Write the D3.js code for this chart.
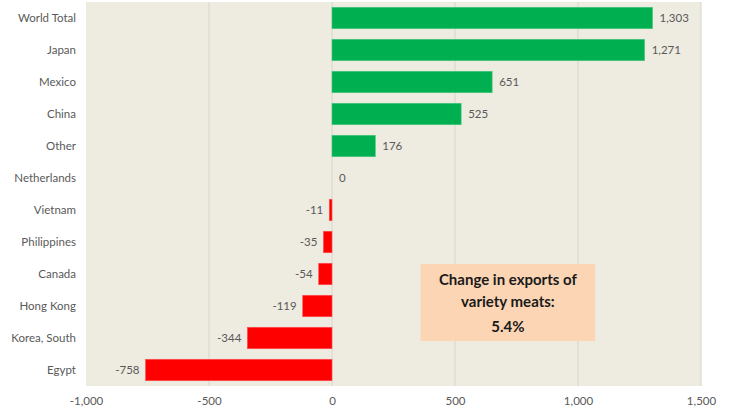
<!DOCTYPE html>
<html>
<head>
<meta charset="utf-8">
<script src="https://cdn.jsdelivr.net/npm/d3@7"></script>
<style>
  body { margin: 0; background: #fff; }
  svg { display: block; font-family: Lato, "Open Sans", sans-serif; }
</style>
</head>
<body>
<div id="chart"></div>
<script>
// 数据
const categories = ["World Total", "Japan", "Mexico", "China", "Other", "Netherlands",
  "Vietnam", "Philippines", "Canada", "Hong Kong", "Korea, South", "Egypt"];
const values = [1303, 1271, 651, 525, 176, 0, -11, -35, -54, -119, -344, -758];
const xTicks = [-1000, -500, 0, 500, 1000, 1500];
const noteLines = ["Change in exports of", "variety meats:", "5.4%"];

const width = 731, height = 413;
const margin = { top: 2, right: 30, bottom: 27, left: 86 };
const innerW = width - margin.left - margin.right;
const innerH = height - margin.top - margin.bottom;

const svg = d3.select("#chart").append("svg")
  .attr("width", width)
  .attr("height", height);

const g = svg.append("g").attr("transform", `translate(${margin.left},${margin.top})`);

const x = d3.scaleLinear().domain([-1000, 1500]).range([0, innerW]);
const y = d3.scaleBand().domain(categories).range([0, innerH]).paddingInner(0.33).paddingOuter(0.165);

// 用普通连字符作负号
const fmt = d => d3.format(",")(d).replace("\u2212", "-");

// 绘图区背景
g.append("rect")
  .attr("width", innerW)
  .attr("height", innerH)
  .attr("fill", "#eeebe1");

// 网格线
g.append("g")
  .selectAll("line")
  .data(xTicks.filter(t => t !== -1000))
  .join("line")
  .attr("x1", d => x(d)).attr("x2", d => x(d))
  .attr("y1", 0).attr("y2", innerH)
  .attr("stroke", "#dcd9d0")
  .attr("stroke-width", 1.2);

// 条形
g.append("g")
  .selectAll("rect")
  .data(values)
  .join("rect")
  .attr("x", d => x(Math.min(0, d)))
  .attr("y", (d, i) => y(categories[i]))
  .attr("width", d => Math.abs(x(d) - x(0)))
  .attr("height", y.bandwidth())
  .attr("fill", d => d >= 0 ? "#00b050" : "#ff0000")
  .attr("stroke", d => d >= 0 ? "#4cc77f" : "#ff5050")
  .attr("stroke-width", 0.6);

// 数值标签
g.append("g")
  .selectAll("text")
  .data(values)
  .join("text")
  .attr("x", d => d < 0 ? x(d) - 6 : x(d) + 7)
  .attr("y", (d, i) => y(categories[i]) + y.bandwidth() / 2)
  .attr("dy", "0.35em")
  .attr("text-anchor", d => d < 0 ? "end" : "start")
  .attr("font-size", 11.5)
  .attr("fill", "#595959")
  .text(d => fmt(d));

// 类别标签
g.append("g")
  .selectAll("text")
  .data(categories)
  .join("text")
  .attr("x", -10)
  .attr("y", d => y(d) + y.bandwidth() / 2)
  .attr("dy", "0.35em")
  .attr("text-anchor", "end")
  .attr("font-size", 11.5)
  .attr("fill", "#595959")
  .text(d => d);

// x 轴
const xAxis = g.append("g")
  .attr("transform", `translate(0,${innerH})`)
  .call(d3.axisBottom(x).tickValues(xTicks).tickFormat(fmt).tickSize(0).tickPadding(11));
xAxis.select(".domain").remove();
xAxis.selectAll("text")
  .attr("font-family", "Lato, 'Open Sans', sans-serif")
  .attr("font-size", 11.5)
  .attr("fill", "#595959");

// 注释框
const boxW = x(1070) - x(360);
const box = g.append("g").attr("transform", `translate(${x(360)},${262})`);
box.append("rect")
  .attr("width", boxW)
  .attr("height", 77)
  .attr("fill", "#fcd5b4");
box.selectAll("text")
  .data(noteLines)
  .join("text")
  .attr("x", boxW / 2)
  .attr("y", (d, i) => [16, 38, 63][i])
  .attr("dy", "0.35em")
  .attr("text-anchor", "middle")
  .attr("font-size", 15)
  .attr("font-weight", "bold")
  .attr("fill", "#1a1a1a")
  .text(d => d);
</script>
</body>
</html>
